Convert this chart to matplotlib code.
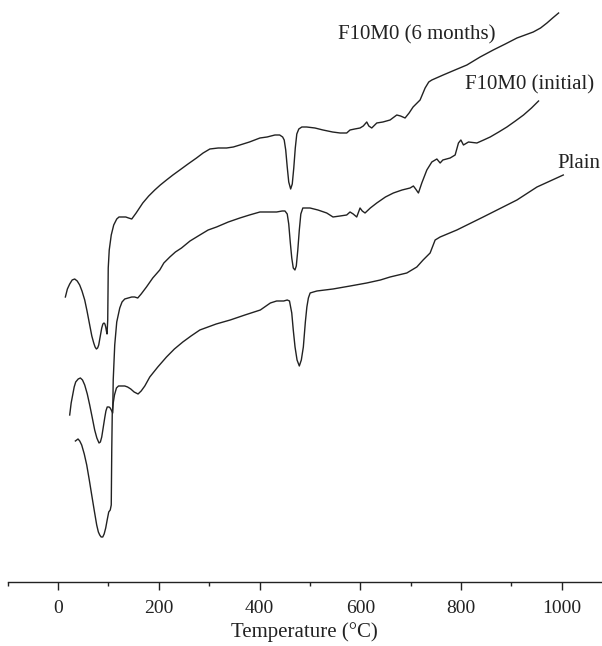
import numpy as np
import matplotlib
matplotlib.use("Agg")
import matplotlib.pyplot as plt
from matplotlib.ticker import MultipleLocator

# ------------------ DATA ------------------ #
# temperature in deg C, heat-flow signal in arbitrary units (curves are offset)
t_6m = [14.5, 18.5, 23.1, 28, 33.0, 38, 42.9, 47.5, 52.9, 57.5, 62.8, 67, 70.8,
        73.5, 76.1, 78.5, 80.7, 83.5, 86.7, 89, 91.2, 93, 94.6, 96, 97.2, 98.6,
        99.2, 99.6, 101.6, 105.6, 110.5, 116.5, 121, 125.8, 130, 134.4, 140,
        146.3, 155, 168.2, 180, 192, 203, 215.3, 228, 241.7, 258, 274.9, 288,
        301.4, 318, 334.6, 348, 361, 380, 400.8, 415, 430.6, 440, 445.9, 449,
        452, 455, 458, 461.8, 465, 468, 471, 474, 478, 484, 493.6, 510, 526,
        545, 560, 573.1, 579.7, 589, 599.6, 606, 612.9, 617, 622.8, 632.8, 645,
        659.2, 672.5, 680, 689, 697, 704.9, 718.8, 728.8, 736, 742.1, 764.6,
        788, 811.7, 838, 864, 888, 911.1, 943.5, 958, 970.7, 982, 993.8]
y_6m = [3.03, 3.11, 3.16, 3.20, 3.21, 3.19, 3.15, 3.09, 3.00, 2.89, 2.75, 2.64, 2.57,
        2.53, 2.51, 2.52, 2.55, 2.63, 2.72, 2.76, 2.77, 2.76, 2.73, 2.69, 2.66, 2.80,
        3.10, 3.32, 3.50, 3.65, 3.75, 3.81, 3.83, 3.83, 3.83, 3.83, 3.82,
        3.81, 3.87, 3.97, 4.04, 4.10, 4.15, 4.20, 4.25, 4.30, 4.36, 4.42, 4.47,
        4.51, 4.52, 4.52, 4.53, 4.55, 4.58, 4.62, 4.63, 4.65, 4.65, 4.63, 4.60,
        4.50, 4.33, 4.18, 4.11, 4.16, 4.32, 4.52, 4.66, 4.71, 4.73, 4.73, 4.72, 4.70,
        4.68, 4.67, 4.67, 4.70, 4.71, 4.72, 4.74, 4.78, 4.74, 4.72, 4.77, 4.78,
        4.80, 4.85, 4.84, 4.82, 4.87, 4.93, 5.00, 5.12, 5.18, 5.20, 5.25,
        5.30, 5.35, 5.43, 5.50, 5.56, 5.62, 5.68, 5.72, 5.77, 5.82, 5.87]

t_init = [23.1, 26, 29, 32, 35, 40, 44.3, 48.5, 52.9, 58, 62.8, 68, 72.7, 77,
          81.3, 84, 86.7, 89.5, 92.6, 95, 97.6, 101.2, 103.5, 105.6, 108.5,
          109.5, 112.5, 116.5, 122.5, 127, 132.4, 146.3, 152, 158.2, 165, 175.5,
          188, 201.9, 210, 221.9, 233, 245.1, 262, 281.5, 298, 314.7, 338, 361,
          380, 400.8, 417, 434, 445, 450.5, 455, 458, 461, 464, 467, 470.3, 473,
          476, 479, 482, 486, 500.2, 516, 533.4, 545.9, 560, 573.1, 579.7, 586,
          593, 599.6, 604, 609.5, 620, 632.8, 650, 665.8, 683, 699, 705.5, 710,
          715.5, 722.2, 732.2, 742.1, 752.1, 758.6, 764, 778.5, 788.4, 795,
          799.8, 804.9, 814.9, 831.6, 845, 858, 875, 891.2, 908, 924.2, 940, 954]
y_init = [1.85, 1.97, 2.05, 2.13, 2.18, 2.21, 2.22, 2.20, 2.15, 2.06, 1.95, 1.82, 1.70, 1.62,
          1.57, 1.58, 1.63, 1.72, 1.82, 1.89, 1.93, 1.93, 1.92, 1.90, 1.87,
          2.20, 2.55, 2.78, 2.92, 2.98, 3.01, 3.03, 3.03, 3.02, 3.06, 3.13,
          3.22, 3.30, 3.37, 3.43, 3.48, 3.52, 3.59, 3.65, 3.70, 3.73, 3.78, 3.82,
          3.85, 3.88, 3.88, 3.88, 3.89, 3.89, 3.86, 3.76, 3.58, 3.42, 3.32, 3.30, 3.34,
          3.50, 3.70, 3.86, 3.92, 3.92, 3.90, 3.87, 3.83, 3.84, 3.85, 3.88, 3.86,
          3.83, 3.92, 3.89, 3.87, 3.92, 3.97, 4.03, 4.07, 4.10, 4.12, 4.14, 4.11,
          4.07, 4.17, 4.30, 4.38, 4.41, 4.37, 4.40, 4.42, 4.45, 4.57,
          4.60, 4.55, 4.58, 4.57, 4.60, 4.63, 4.68, 4.73, 4.79, 4.85, 4.92, 4.99]

t_plain = [34.4, 39.6, 43, 46.9, 52, 56.9, 62, 66.8, 72, 76.7, 80, 82.7, 85.5,
           88.7, 91.5, 94.6, 97.5, 100.6, 103.6, 105.6, 106.6, 107.6, 109.5, 112,
           115.9, 120, 124.4, 132.4, 138, 144.3, 151, 158.8, 165, 172.2, 182.1,
           198, 215.3, 231, 247.7, 264, 281.5, 314, 341.8, 371, 401.6, 421.5, 434,
           448, 455, 459.5, 464, 467, 470.5, 474.5, 479, 483, 487, 491, 494, 497,
           500.5, 507, 514, 545.9, 580, 612.9, 640, 659.2, 692.4, 712.3, 724.8,
           738.7, 748.7, 758.6, 791.8, 844.1, 911.1, 950.9, 1003.1]
y_plain = [1.59, 1.61, 1.59, 1.55, 1.46, 1.35, 1.20, 1.05, 0.89, 0.75, 0.68, 0.65, 0.63,
           0.63, 0.66, 0.72, 0.80, 0.88, 0.90, 0.95, 1.50, 1.87, 1.97, 2.05,
           2.12, 2.14, 2.14, 2.14, 2.13, 2.11, 2.08, 2.06, 2.09, 2.14, 2.23,
           2.33, 2.43, 2.51, 2.58, 2.64, 2.70, 2.76, 2.80, 2.85, 2.90, 2.97, 2.99,
           2.99, 3.00, 2.99, 2.87, 2.70, 2.53, 2.40, 2.34, 2.40, 2.53, 2.78, 2.93, 3.02,
           3.07, 3.08, 3.09, 3.11, 3.14, 3.17, 3.20, 3.23, 3.27, 3.33, 3.40,
           3.47, 3.60, 3.63, 3.70, 3.83, 4.00, 4.13, 4.25]

labels = ["F10M0 (6 months)", "F10M0 (initial)", "Plain"]
label_pos = [(713, 5.65), (937, 5.15), (1034, 4.36)]

# ------------------ PLOT ------------------ #
plt.rcParams["font.family"] = ["Liberation Serif", "DejaVu Serif"]

fig = plt.figure(figsize=(6.02, 6.46), dpi=100)
ax = fig.add_axes([0.0128, 0.0991, 0.9872, 0.9009])

line_kw = dict(color="#222222", lw=1.0)
ax.plot(t_6m, y_6m, **line_kw)
ax.plot(t_init, y_init, **line_kw)
ax.plot(t_plain, y_plain, **line_kw)

for txt, (x, y) in zip(labels, label_pos):
    ax.text(x, y, txt, ha="center", va="center", fontsize=15, color="#222222")

ax.set_xlim(-100, 1080)
ax.set_ylim(0.18, 6.0)

for side in ["left", "right", "top"]:
    ax.spines[side].set_visible(False)
ax.spines["bottom"].set_color("#222222")
ax.spines["bottom"].set_linewidth(1.0)

ax.set_yticks([])
ax.xaxis.set_major_locator(MultipleLocator(200))
ax.xaxis.set_minor_locator(MultipleLocator(100))
ax.set_xticks(range(0, 1001, 200))
ax.tick_params(axis="x", which="major", direction="out", length=6, width=1.0,
               labelsize=14, pad=7, color="#222222", labelcolor="#222222")
ax.tick_params(axis="x", which="minor", direction="out", length=3, width=1.0,
               color="#222222")
ax.set_xlabel("Temperature (°C)", fontsize=15, color="#222222", labelpad=4)

fig.savefig("out.png", dpi=100)
